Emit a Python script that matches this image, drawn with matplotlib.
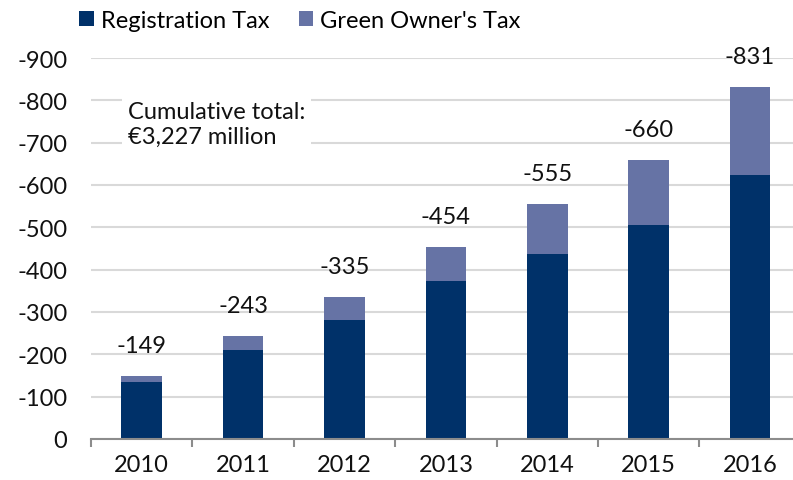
import matplotlib
matplotlib.use("Agg")
import matplotlib.pyplot as plt
import matplotlib.ticker as mticker
from matplotlib.patches import Patch
import numpy as np

DARK = "#003169"
LIGHT = "#6673a5"
GRID = "#d9d9d9"
AXIS = "#8c8c8c"
TEXT = "#111111"

years = ["2010", "2011", "2012", "2013", "2014", "2015", "2016"]
registration = np.array([-135, -211, -281, -374, -438, -506, -624])
totals = np.array([-149, -243, -335, -454, -555, -660, -831])
green_owner = totals - registration

plt.rcParams["font.family"] = ["Lato", "DejaVu Sans"]
plt.rcParams["font.size"] = 17

fig = plt.figure(figsize=(7.93, 4.81), dpi=100)
ax = fig.add_axes([91 / 793, 41 / 481, 709.75 / 793, 381 / 481])

x = np.arange(len(years))
ax.bar(x, registration, width=0.4, color=DARK, zorder=3)
ax.bar(x, green_owner, width=0.4, bottom=registration, color=LIGHT, zorder=3)

for xi, tot in zip(x, totals):
    ax.annotate(f"-{abs(tot)}", (xi, tot), xytext=(0, 22), textcoords="offset points",
                ha="center", va="center", fontsize=17, color=TEXT, clip_on=False)

ax.text(-0.14, -744, "Cumulative total:\n€3,227 million", ha="left", va="center",
        fontsize=17, color=TEXT, linespacing=1.22, zorder=4,
        bbox=dict(facecolor="white", edgecolor="none", pad=4))

ax.set_xlim(-0.5, len(years) - 0.5)
ax.set_ylim(0, -900)
ax.set_yticks(np.arange(0, -1000, -100))
ax.yaxis.set_major_formatter(mticker.FuncFormatter(lambda v, p: "0" if v == 0 else f"-{abs(int(v))}"))
ax.set_xticks(x)
ax.set_xticklabels(years)
ax.set_xticks(np.arange(-0.5, len(years), 1.0), minor=True)

ax.grid(axis="y", color=GRID, linewidth=1.5, zorder=0)
ax.set_axisbelow(True)
for s in ["top", "right", "left"]:
    ax.spines[s].set_visible(False)
ax.spines["bottom"].set_color(AXIS)
ax.spines["bottom"].set_linewidth(1.5)
ax.spines["bottom"].set_zorder(5)
ax.tick_params(axis="y", length=0, pad=17, labelsize=17, labelcolor=TEXT)
ax.tick_params(axis="x", which="major", length=0, pad=11, labelsize=17, labelcolor=TEXT)
ax.tick_params(axis="x", which="minor", length=6, width=1.5, color=AXIS)

handles = [Patch(facecolor=DARK, label="Registration Tax"),
           Patch(facecolor=LIGHT, label="Green Owner's Tax")]
fig.legend(handles=handles, loc="center left", bbox_to_anchor=(70 / 793, 1 - 21 / 481),
           ncol=2, frameon=False, fontsize=17, handlelength=0.6, handleheight=0.6,
           handletextpad=0.3, columnspacing=1.25, borderaxespad=0)

fig.savefig("out.png", dpi=100)
